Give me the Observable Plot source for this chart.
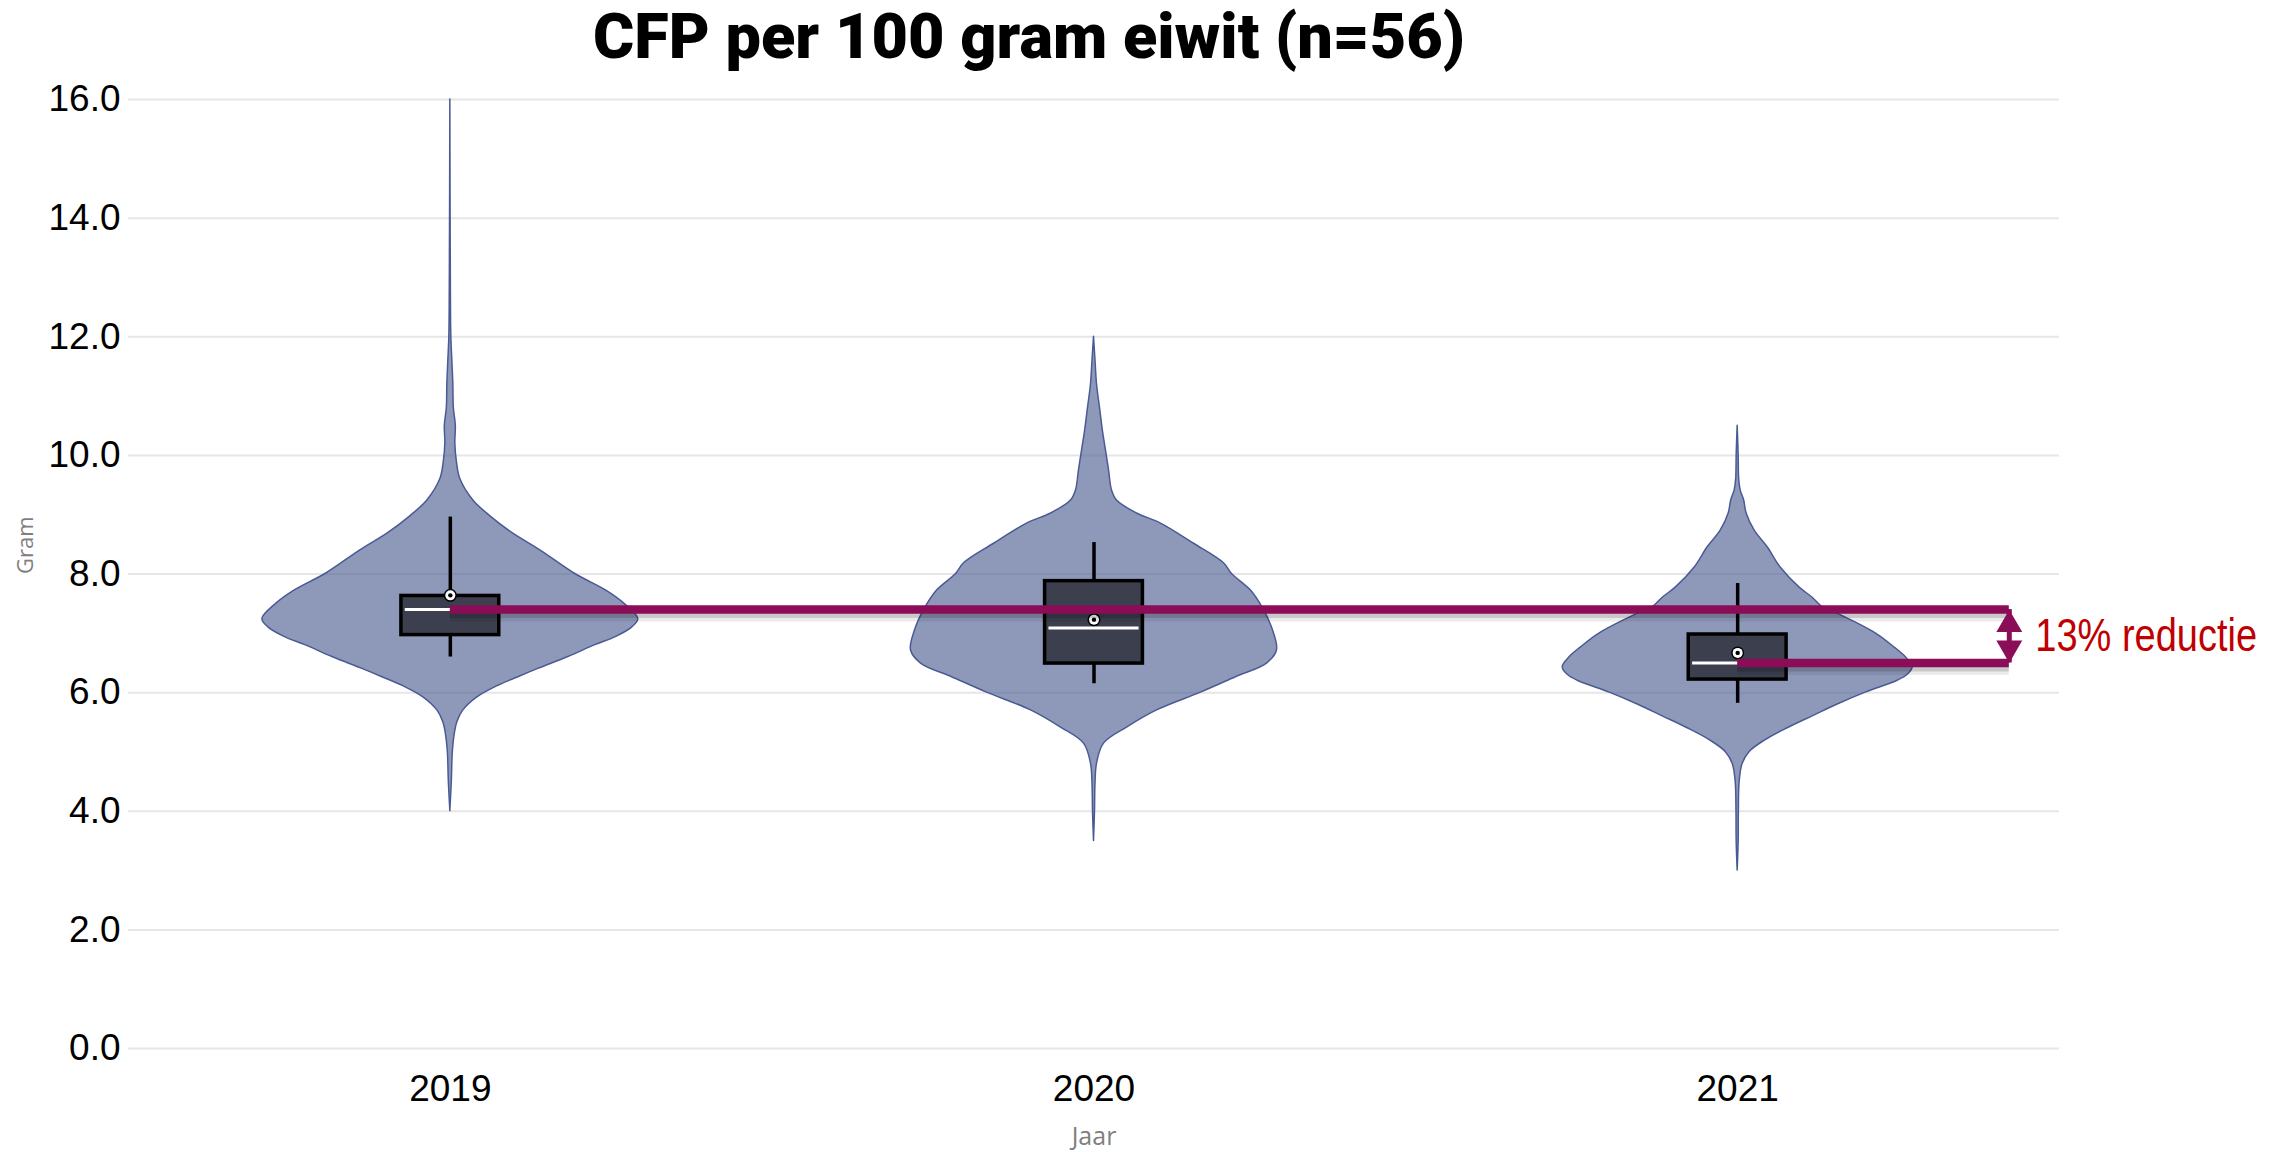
<!DOCTYPE html>
<html>
<head>
<meta charset="utf-8">
<script src="https://cdn.jsdelivr.net/npm/d3@7"></script>
<script src="https://cdn.jsdelivr.net/npm/@observablehq/plot@0.6"></script>
<style>
html, body { margin: 0; padding: 0; background: #fff; }
#wrap { position: relative; width: 2282px; height: 1152px; overflow: hidden; background: #fff; }
#chart { position: absolute; left: 0; top: 0; }
#title {
  position: absolute; left: 593px; top: 0px; white-space: nowrap;
  font-family: Roboto, "Open Sans", sans-serif; font-weight: 900;
  font-size: 63px; line-height: normal; color: #000; transform-origin: 0 0;
}
</style>
</head>
<body>
<div id="wrap">
  <div id="chart"></div>
  <div id="title">CFP per 100 gram eiwit (n=56)</div>
</div>
<script>
// ---------- data ----------
const years = [2019, 2020, 2021];
const q1 = [6.97, 6.49, 6.22];
const q3 = [7.63, 7.88, 6.98];
const median = [7.40, 7.09, 6.50];
const mean = [7.64, 7.23, 6.67];
const whiskerLow = [6.60, 6.15, 5.82];
const whiskerHigh = [8.96, 8.53, 7.84];
const yTicks = [0, 2, 4, 6, 8, 10, 12, 14, 16];

// violin outlines: value (gram) and estimated density (arbitrary units)
const v2019 = [16.0, 13.0, 12.0, 11.6, 11.2, 10.8, 10.5, 10.2, 9.9, 9.6, 9.24, 8.96, 8.68, 8.40, 8.0, 7.72, 7.5, 7.24, 7.10, 6.94, 6.80, 6.60, 6.40, 6.26, 6.10, 5.92, 5.70, 5.50, 5.31, 5.0, 4.5, 4.0];
const d2019 = [0, 0.5, 1, 2, 3, 3.5, 5.5, 5, 6.5, 10, 23, 41, 63, 90, 125, 156, 174, 188, 182, 166, 145, 118, 88, 68, 46, 27, 13, 7, 4.5, 2.5, 1.5, 0];
const v2020 = [12.0, 11.6, 11.2, 10.8, 10.4, 10.08, 9.75, 9.41, 9.24, 9.02, 8.85, 8.51, 8.18, 8.0, 7.72, 7.39, 7.05, 6.71, 6.49, 6.26, 6.0, 5.70, 5.41, 5.14, 4.80, 4.47, 4.0, 3.5];
const d2020 = [0, 1.5, 3, 6, 9, 12, 15, 18, 23, 43, 67, 100, 130, 138, 157, 170, 179, 183, 173, 142, 107, 63, 33, 10, 3, 1.5, 1, 0];
const v2021 = [10.5, 10.0, 9.6, 9.41, 9.24, 9.02, 8.73, 8.45, 8.11, 7.77, 7.60, 7.44, 7.33, 7.0, 6.76, 6.6, 6.43, 6.3, 6.2, 6.0, 5.8, 5.6, 5.4, 5.2, 5.0, 4.8, 4.5, 4.0, 3.5, 3.0];
const d2021 = [0, 1, 1.5, 3, 6.5, 9, 17, 30, 43, 62, 75, 85, 100, 138, 157, 168, 175, 170, 160, 128, 100, 75, 50, 28, 12, 5, 2, 1.2, 1, 0];

const reductionLabel = "13% reductie";
const xLabel = "Jaar";
const yLabel = "Gram";

// ---------- tables built from the arrays ----------
const violin = [];
[[2019, v2019, d2019], [2020, v2020, d2020], [2021, v2021, d2021]].forEach(([yr, vs, ds]) =>
  vs.forEach((v, i) => violin.push({year: yr, value: v, density: ds[i]})));
const dMax = d3.max(violin, d => d.density);
const W = 0.292;   // max violin half-width (in year units)
const B = 0.076;   // box half-width (in year units)
const stats = years.map((y, i) => ({year: y, q1: q1[i], q3: q3[i], median: median[i], mean: mean[i], lo: whiskerLow[i], hi: whiskerHigh[i]}));

const xEnd = 2021.422;
const refLines = [{x1: years[0], y: median[0]}, {x1: years[2], y: median[2]}];
const yMid = (median[0] + median[2]) / 2;
const magenta = "#8b0c57";
const sans = "'Liberation Sans', Arial, sans-serif";

const chart = Plot.plot({
  width: 2282, height: 1152,
  marginTop: 99, marginBottom: 104, marginLeft: 128, marginRight: 223,
  style: {fontFamily: sans, fontSize: "37px", color: "#000", background: "#fff", overflow: "visible"},
  x: {domain: [2018.5, 2021.5]},
  y: {domain: [0, 16]},
  marks: [
    Plot.ruleY(yTicks, {stroke: "#e6e6e6", strokeWidth: 2}),
    Plot.axisY({ticks: yTicks, tickFormat: d3.format(".1f"), tickSize: 0, tickPadding: 8, label: null, fontSize: 37}),
    Plot.axisX({ticks: years, tickFormat: d => String(d), tickSize: 0, tickPadding: 26, label: null, fontSize: 37}),
    Plot.text([xLabel], {frameAnchor: "bottom", dy: 79, lineAnchor: "top", fontSize: 25, fill: "#7f7f7f", fontFamily: "'Open Sans', 'Noto Sans', sans-serif"}),
    Plot.text([yLabel], {frameAnchor: "left", dx: -103, rotate: -90, fontSize: 22, fill: "#7f7f7f", fontFamily: "'Open Sans', 'Noto Sans', sans-serif"}),
    Plot.areaX(violin, {
      y: "value",
      x1: d => d.year - d.density / dMax * W,
      x2: d => d.year + d.density / dMax * W,
      z: "year", curve: "catmull-rom",
      fill: "#4f5f93", fillOpacity: 0.64, stroke: "#4a5a94", strokeWidth: 1.5
    }),
    Plot.ruleX(stats, {x: "year", y1: "hi", y2: "q3", stroke: "#000", strokeWidth: 3.5}),
    Plot.ruleX(stats, {x: "year", y1: "q1", y2: "lo", stroke: "#000", strokeWidth: 3.5}),
    Plot.rect(stats, {x1: d => d.year - B, x2: d => d.year + B, y1: "q1", y2: "q3", fill: "#3c3f4e", stroke: "#000", strokeWidth: 3.5}),
    Plot.ruleY(stats, {y: "median", x1: d => d.year - B + 0.006, x2: d => d.year + B - 0.006, stroke: "#fff", strokeWidth: 3}),
    Plot.dot(stats, {x: "year", y: "mean", r: 6.5, fill: "#000"}),
    Plot.dot(stats, {x: "year", y: "mean", r: 5, fill: "#fff"}),
    Plot.dot(stats, {x: "year", y: "mean", r: 2.2, fill: "#000"}),
    // shadows of the reference lines
    Plot.ruleY(refLines, {y: "y", x1: "x1", x2: () => xEnd, stroke: "#000", strokeOpacity: 0.08, strokeWidth: 14, dy: 5}),
    Plot.ruleY(refLines, {y: "y", x1: "x1", x2: () => xEnd, stroke: "#000", strokeOpacity: 0.14, strokeWidth: 9, dy: 4}),
    // reference lines
    Plot.ruleY(refLines, {y: "y", x1: "x1", x2: () => xEnd, stroke: magenta, strokeWidth: 8.5}),
    // double arrow
    Plot.ruleX([0], {x: () => xEnd, y1: () => median[0], y2: () => median[2], stroke: magenta, strokeWidth: 5}),
    Plot.dot([0], {x: () => xEnd, y: () => median[0], dy: 15, symbol: "triangle", r: 9.6, fill: magenta}),
    Plot.dot([0], {x: () => xEnd, y: () => median[2], dy: -15, symbol: "triangle", rotate: 180, r: 9.6, fill: magenta}),
    Plot.text([reductionLabel], {x: () => xEnd, y: () => yMid, dx: 26, textAnchor: "start", lineAnchor: "middle", fill: "#c00000", fontSize: 38, fontFamily: "'Liberation Sans Narrow', 'Arial Narrow', 'Liberation Sans', sans-serif"})
  ]
});
document.getElementById("chart").appendChild(chart);

// stretch the annotation vertically so it matches the tall, narrow lettering of the reference
d3.select(chart).selectAll("text").filter(function() { return this.textContent === reductionLabel; })
  .each(function() {
    const el = this;
    const t = el.getAttribute("transform");
    if (t) {
      el.setAttribute("transform", t + " scale(1,1.237)");
    } else {
      const x = +el.getAttribute("x") || 0, y = +el.getAttribute("y") || 0;
      el.removeAttribute("x"); el.removeAttribute("y");
      el.setAttribute("transform", `translate(${x},${y}) scale(1,1.237)`);
    }
  });

function fitTitle() {
  const t = document.getElementById("title");
  t.style.transform = "none";
  const w = t.getBoundingClientRect().width;
  if (w > 0) t.style.transform = `scaleX(${872 / w})`;
}
fitTitle();
if (document.fonts && document.fonts.ready) document.fonts.ready.then(fitTitle);
</script>
</body>
</html>
